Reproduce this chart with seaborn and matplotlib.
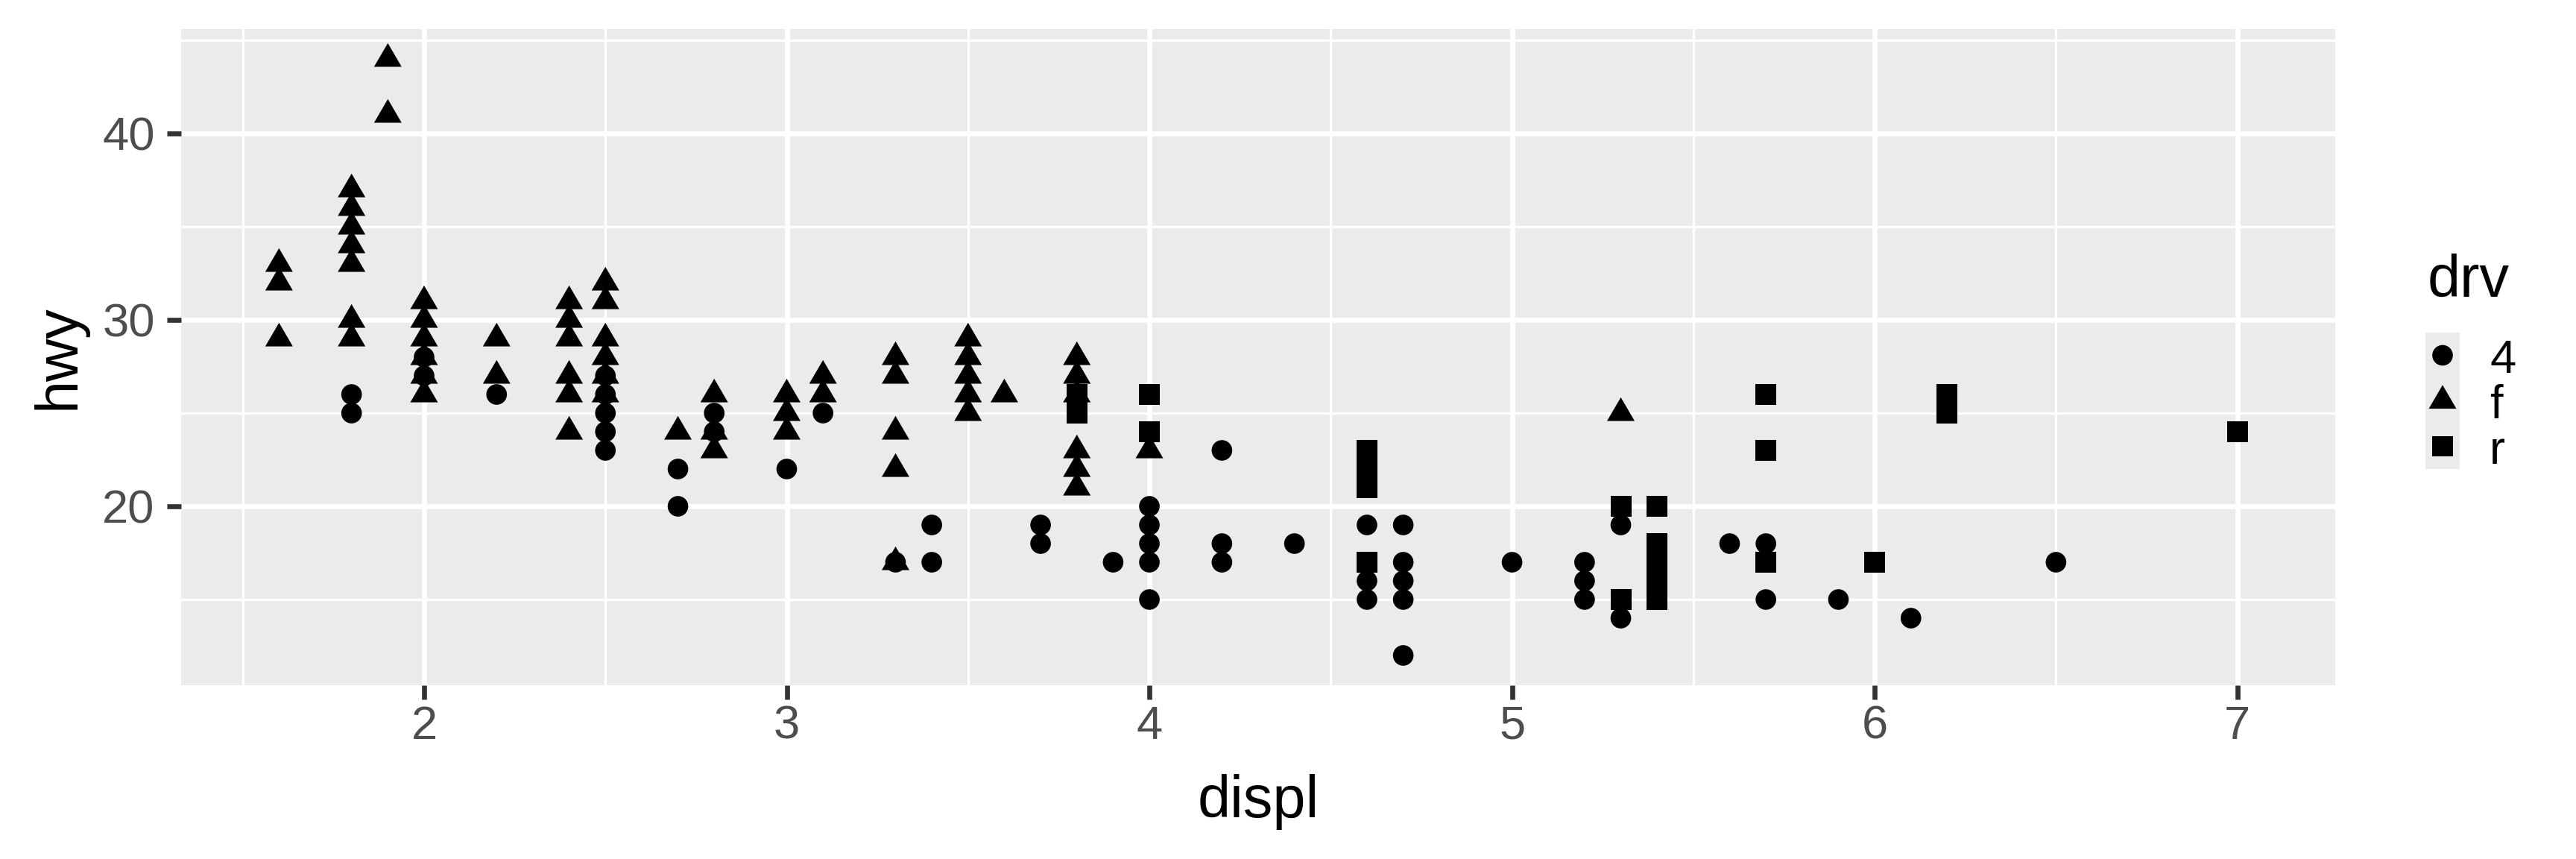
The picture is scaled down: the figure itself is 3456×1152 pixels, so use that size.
import numpy as np
import pandas as pd
import matplotlib
matplotlib.use("Agg")
import matplotlib.pyplot as plt
import seaborn as sns
from matplotlib.path import Path


# ==========================================
# DATA (mpg: displ vs hwy, shape = drv)
# ==========================================
drv_levels = ["4", "f", "r"]

displ_4 = [1.8, 1.8, 2.0, 2.0, 2.2, 2.5, 2.5, 2.5, 2.5, 2.5, 2.7, 2.7,
           2.8, 2.8, 3.0, 3.1, 3.3, 3.4, 3.4, 3.7, 3.7, 3.9,
           4.0, 4.0, 4.0, 4.0, 4.0, 4.2, 4.2, 4.2, 4.4,
           4.6, 4.6, 4.6, 4.7, 4.7, 4.7, 4.7, 4.7, 5.0,
           5.2, 5.2, 5.2, 5.3, 5.3, 5.4, 5.6, 5.7, 5.7, 5.9, 6.1, 6.5]
hwy_4 = [26, 25, 28, 27, 26, 27, 26, 25, 24, 23, 22, 20,
         25, 24, 22, 25, 17, 19, 17, 19, 18, 17,
         20, 19, 18, 17, 15, 23, 18, 17, 18,
         19, 16, 15, 19, 17, 16, 15, 12, 17,
         17, 16, 15, 19, 14, 15, 18, 18, 15, 15, 14, 17]

displ_f = [1.6, 1.6, 1.6,
           1.8, 1.8, 1.8, 1.8, 1.8, 1.8, 1.8,
           1.9, 1.9,
           2.0, 2.0, 2.0, 2.0, 2.0, 2.0,
           2.2, 2.2,
           2.4, 2.4, 2.4, 2.4, 2.4, 2.4,
           2.5, 2.5, 2.5, 2.5, 2.5, 2.5,
           2.7, 2.8, 2.8, 2.8, 3.0, 3.0, 3.0, 3.1, 3.1,
           3.3, 3.3, 3.3, 3.3, 3.3,
           3.5, 3.5, 3.5, 3.5, 3.5, 3.6,
           3.8, 3.8, 3.8, 3.8, 3.8, 3.8, 4.0, 5.3]
hwy_f = [33, 32, 29,
         37, 36, 35, 34, 33, 30, 29,
         44, 41,
         31, 30, 29, 28, 27, 26,
         29, 27,
         31, 30, 29, 27, 26, 24,
         32, 31, 29, 28, 27, 26,
         24, 26, 24, 23, 26, 25, 24, 27, 26,
         28, 27, 24, 22, 17,
         29, 28, 27, 26, 25, 26,
         28, 27, 26, 23, 22, 21, 23, 25]

displ_r = [3.8, 3.8, 4.0, 4.0, 4.6, 4.6, 4.6, 4.6, 5.3, 5.3,
           5.4, 5.4, 5.4, 5.4, 5.4, 5.7, 5.7, 5.7, 6.0, 6.2, 6.2, 7.0]
hwy_r = [26, 25, 26, 24, 23, 22, 21, 17, 20, 15,
         20, 18, 17, 16, 15, 26, 23, 17, 17, 26, 25, 24]

x_breaks = [2, 3, 4, 5, 6, 7]
y_breaks = [20, 30, 40]


# ==========================================
# BUILD FRAME
# ==========================================
mpg = pd.concat([
    pd.DataFrame({"displ": displ_4, "hwy": hwy_4, "drv": "4"}),
    pd.DataFrame({"displ": displ_f, "hwy": hwy_f, "drv": "f"}),
    pd.DataFrame({"displ": displ_r, "hwy": hwy_r, "drv": "r"}),
], ignore_index=True)


# ==========================================
# STYLE
# ==========================================
W, H, DPI = 3456, 1152, 300

plt.rcParams["font.family"] = ["Liberation Sans", "DejaVu Sans"]

PANEL = "#EBEBEB"
TICK_TXT = "#4D4D4D"
TICK_LINE = "#333333"

tri = Path([(-1, -0.5714), (1, -0.5714), (0, 1.1429), (-1, -0.5714)],
           [Path.MOVETO, Path.LINETO, Path.LINETO, Path.CLOSEPOLY])

shape_map = {"4": ("o", 44), "f": (tri, 103), "r": ("s", 45)}
draw_order = ["f", "4", "r"]


# ==========================================
# PLOT
# ==========================================
fig = plt.figure(figsize=(W / DPI, H / DPI), dpi=DPI)

p_left, p_right, p_top, p_bot = 243, 3133, 39, 919
ax = fig.add_axes([
    p_left / W,
    1 - p_bot / H,
    (p_right - p_left) / W,
    (p_bot - p_top) / H
])

for lvl in draw_order:
    marker, size = shape_map[lvl]
    sns.scatterplot(
        data=mpg[mpg["drv"] == lvl],
        x="displ",
        y="hwy",
        marker=marker,
        s=size,
        color="black",
        edgecolor="none",
        linewidth=0,
        ax=ax,
        zorder=3
    )

ax.set_facecolor(PANEL)
for s in ax.spines.values():
    s.set_visible(False)

ax.set_xticks(x_breaks)
ax.set_yticks(y_breaks)
ax.set_xticks([b - 0.5 for b in x_breaks] + [x_breaks[-1] + 0.5], minor=True)
ax.set_yticks([b - 5 for b in y_breaks] + [y_breaks[-1] + 5], minor=True)
ax.set_xticklabels([str(b) for b in x_breaks])
ax.set_yticklabels([str(b) for b in y_breaks])

# ggplot-style 5% expansion, set after the ticks so they don't widen it
xmin, xmax = mpg["displ"].min(), mpg["displ"].max()
ymin, ymax = mpg["hwy"].min(), mpg["hwy"].max()
xpad = 0.05 * (xmax - xmin)
ypad = 0.05 * (ymax - ymin)
ax.set_xlim(xmin - xpad, xmax + xpad)
ax.set_ylim(ymin - ypad, ymax + ypad)

ax.set_axisbelow(True)
ax.grid(which="major", color="white", linewidth=1.6)
ax.grid(which="minor", color="white", linewidth=0.8)

ax.tick_params(which="major", length=4.56, width=1.6, color=TICK_LINE,
               labelsize=15.2, labelcolor=TICK_TXT)
ax.tick_params(axis="x", which="major", pad=1.6)
ax.tick_params(axis="y", which="major", pad=3.9)
ax.tick_params(which="minor", length=0)

ax.set_xlabel("displ", fontsize=19, color="black")
ax.set_ylabel("hwy", fontsize=19, color="black")
ax.xaxis.set_label_coords(0.5, -0.135)
ax.yaxis.set_label_coords(-0.0439, 0.5)


# ==========================================
# LEGEND (ggplot-style keys)
# ==========================================
k_left, k_right, k_top, k_bot = 3254, 3300, 446, 629
lax = fig.add_axes([
    k_left / W,
    1 - k_bot / H,
    (k_right - k_left) / W,
    (k_bot - k_top) / H
])
lax.set_facecolor(PANEL)
for s in lax.spines.values():
    s.set_visible(False)
lax.set_xticks([])
lax.set_yticks([])
lax.set_xlim(-0.5, 0.5)
lax.set_ylim(len(drv_levels) - 0.5, -0.5)

key_h = (k_bot - k_top) / len(drv_levels)
for i, lvl in enumerate(drv_levels):
    marker, size = shape_map[lvl]
    lax.scatter([0], [i], marker=marker, s=size, color="black",
                edgecolor="none", linewidth=0)
    base = k_top + key_h * (i + 0.5) + 23.5
    lax.text((3340 - k_left) / (k_right - k_left),
             (k_bot - base) / (k_bot - k_top),
             lvl, transform=lax.transAxes, ha="left", va="baseline",
             fontsize=15.2, color="black")

lax.text((3257 - k_left) / (k_right - k_left),
         (k_bot - 398) / (k_bot - k_top),
         "drv", transform=lax.transAxes, ha="left", va="baseline",
         fontsize=19, color="black")

fig.savefig("out.png", dpi=DPI, facecolor="white")
